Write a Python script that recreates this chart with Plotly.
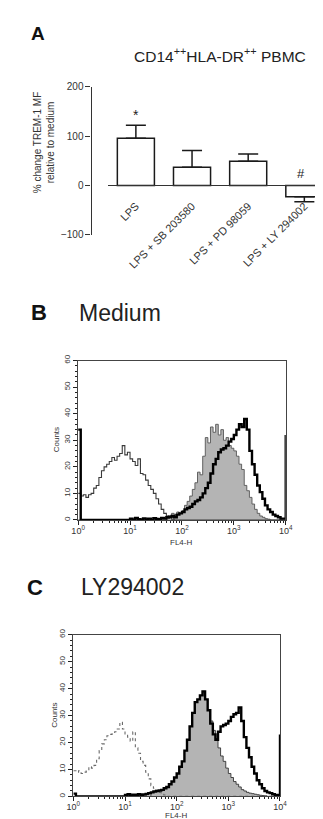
import plotly.graph_objects as go

W, H = 323, 819
FONT = "Liberation Sans, Arial, Helvetica, sans-serif"

# ---------------- Panel A data ----------------
CATEGORIES = ["LPS", "LPS + SB 203580", "LPS + PD 98059", "LPS + LY 294002"]
PCT_CHANGE = [96, 37, 49, -23]
ERR_UP = [26, 34, 15, 0]
ERR_DOWN = [0, 0, 0, 10]
Y_TICKS_A = [-100, 0, 100, 200]

# ---------------- Histogram data (log channel exponent 0..4, step 0.05) ----------------
CHANNEL_EXP = [i / 20 for i in range(81)]
X_TICKVALS = [1, 10, 100, 1000, 10000]
X_TICKTEXT = ["10<sup>0</sup>", "10<sup>1</sup>", "10<sup>2</sup>", "10<sup>3</sup>", "10<sup>4</sup>"]

B_CONTROL = [10, 9, 9.5, 8.5, 9.5, 10, 12, 13, 16, 18.5,
             20, 21, 22, 23.5, 22.5, 24, 25, 28, 24.5, 25.5,
             23, 22, 20.5, 23, 17.5, 17, 15, 13, 11.5, 10,
             8, 6, 4, 2.5, 1.5, 0.8, 0.3, 0, 0, 0,
             0, 0, 0, 0, 0, 0, 0, 0, 0, 0,
             0, 0, 0, 0, 0, 0, 0, 0, 0, 0,
             0, 0, 0, 0, 0, 0, 0, 0, 0, 0,
             0, 0, 0, 0, 0, 0, 0, 0, 0, 0,
             0]
B_FILLED = [0, 0, 0, 0, 0, 0, 0, 0, 0, 0,
            0, 0, 0, 0, 0, 0, 0, 0, 0, 0,
            0, 0, 0, 0, 0, 0, 0, 0, 0, 0,
            0, 0, 0, 0, 0.5, 1, 2.5, 2, 3, 2.5,
            3.5, 5.5, 7, 9, 11.5, 14, 18, 17, 24, 31,
            29, 35, 33, 36, 32, 34, 30, 31, 28, 27,
            26, 24, 21, 19, 13, 11, 8.5, 6, 4, 2.5,
            1.5, 1, 0.5, 0.3, 0, 0, 0, 0, 0, 0,
            0]
B_THICK = [34, 0, 0, 0, 0, 0, 0, 0, 0, 0,
           0, 0, 0, 0, 0, 0, 0, 0, 0, 0,
           0.5, 0, 0.8, 0.3, 0, 0.6, 0.2, 0.5, 0, 0.7,
           0.4, 0.3, 0.8, 0.5, 1, 1.2, 1.5, 1, 2, 2.5,
           3, 4, 4.5, 5, 6, 7, 7.5, 8.5, 10, 12,
           14, 17.5, 21, 23, 25.5, 26.5, 27, 28, 29.5, 30.5,
           32, 34, 36, 35, 38, 34, 26, 21, 17, 13,
           10.5, 8, 5.5, 4, 3, 2, 1.5, 1, 0.5, 0.5,
           32]

C_CONTROL = [9.5, 9, 9.5, 8.5, 9, 9.5, 11, 10.5, 11.5, 14,
             17, 19.5, 21, 22.5, 23, 23.5, 24, 25, 27.5, 25,
             23, 22, 20.5, 24, 18, 16, 13, 11.5, 9, 6.5,
             4, 3, 2, 1.5, 0.8, 0.5, 0, 0, 0, 0,
             0, 0, 0, 0, 0, 0, 0, 0, 0, 0,
             0, 0, 0, 0, 0, 0, 0, 0, 0, 0,
             0, 0, 0, 0, 0, 0, 0, 0, 0, 0,
             0, 0, 0, 0, 0, 0, 0, 0, 0, 0,
             0]
C_FILLED = [0, 0, 0, 0, 0, 0, 0, 0, 0, 0,
            0, 0, 0, 0, 0, 0, 0, 0, 0, 0,
            0, 0, 0, 0, 0, 0, 0, 0, 0, 0,
            1.5, 1.8, 2, 2.2, 2.4, 3, 3.5, 4.5, 5.5, 7,
            8.5, 11, 13, 17, 21, 26, 31, 35, 36, 37.5,
            39, 36, 32, 28, 24.5, 21.5, 18, 15, 13, 10.5,
            8.5, 7, 5.5, 4.5, 3.5, 2.5, 2, 1.5, 1.2, 1,
            0.8, 0.6, 0.4, 0.3, 0.2, 0, 0, 0, 0, 0,
            0]
C_THICK = [1, 0, 0, 0, 0, 0, 0, 0, 0, 0,
           0, 0, 0, 0, 0, 0, 0, 0, 0, 0,
           0.5, 0.8, 0.3, 0.6, 0.5, 0.8, 0.4, 0.7, 0.9, 1.2,
           1.5, 1.8, 2, 2.2, 2.4, 3, 3.5, 4.5, 5.5, 7,
           8.5, 11, 13, 17, 21, 26, 31, 35, 36, 37.5,
           39, 36, 32, 27, 23, 21, 24, 26, 26.5, 27,
           28, 29.5, 30.5, 31, 33, 28, 22, 18, 14.5, 11,
           8.5, 6, 4.5, 3, 2, 1.5, 1.2, 0.8, 0.5, 0.5,
           23]

Y_TICKS_HIST = [0, 10, 20, 30, 40, 50, 60]


def px_x(p):
    return p / W


def px_y(p):
    return 1 - p / H


fig = go.Figure()

# ---------------- Panel A: bars ----------------
fig.add_trace(go.Bar(
    x=CATEGORIES, y=PCT_CHANGE, xaxis="x", yaxis="y", width=0.66,
    marker=dict(color="white", line=dict(color="#1a1a1a", width=1.5)),
    error_y=dict(type="data", symmetric=False, array=ERR_UP, arrayminus=ERR_DOWN,
                 color="#1a1a1a", thickness=1.5, width=10),
    showlegend=False,
))

# ---------------- Histograms ----------------
xs = [10 ** e for e in CHANNEL_EXP]


def add_hist(xa, ya, filled, control, thick, control_dash, control_color, filled_line):
    fig.add_trace(go.Scatter(x=xs, y=filled, xaxis=xa, yaxis=ya, mode="lines",
                             line=dict(shape="hv", color=filled_line, width=0.9),
                             fill="tozeroy", fillcolor="#b4b4b4", showlegend=False))
    fig.add_trace(go.Scatter(x=xs, y=control, xaxis=xa, yaxis=ya, mode="lines",
                             line=dict(shape="hv", color=control_color, width=1.1, dash=control_dash),
                             showlegend=False))
    fig.add_trace(go.Scatter(x=xs, y=thick, xaxis=xa, yaxis=ya, mode="lines",
                             line=dict(shape="hv", color="#000000", width=2.4),
                             showlegend=False))


add_hist("x2", "y2", B_FILLED, B_CONTROL, B_THICK, "solid", "#3a3a3a", "#555555")
add_hist("x3", "y3", C_FILLED, C_CONTROL, C_THICK, "dot", "#6a6a6a", "#333333")

tickfont_small = dict(family=FONT, size=8, color="#333")
minor_x = [m * 10 ** d for d in range(4) for m in range(2, 10)]


def hist_axes(xdom, ydom):
    xa = dict(domain=xdom, type="log", range=[0, 4],
              showline=True, mirror=True, linecolor="#444", linewidth=1,
              ticks="outside", ticklen=4, tickcolor="#222", tickwidth=1,
              tickvals=X_TICKVALS, ticktext=X_TICKTEXT, ticklabelstandoff=-2,
              tickfont=dict(family=FONT, size=9, color="#333"),
              minor=dict(tickvals=minor_x, ticks="outside", ticklen=2, tickcolor="#222"),
              showgrid=False, zeroline=False, fixedrange=True)
    ya = dict(domain=ydom, range=[0, 60],
              showline=True, mirror=True, linecolor="#444", linewidth=1,
              ticks="outside", ticklen=4, tickcolor="#222", tickwidth=1,
              tickvals=Y_TICKS_HIST, tickangle=-90, tickfont=tickfont_small,
              minor=dict(dtick=2, ticks="outside", ticklen=2, tickcolor="#222"),
              showgrid=False, zeroline=False, fixedrange=True)
    return xa, ya


xa2, ya2 = hist_axes([px_x(66), px_x(283)], [px_y(513.5), px_y(351.7)])
xa3, ya3 = hist_axes([px_x(61), px_x(277)], [px_y(794), px_y(630)])
xa2["anchor"], ya2["anchor"] = "y2", "x2"
xa3["anchor"], ya3["anchor"] = "y3", "x3"

fig.update_layout(
    width=W, height=H,
    margin=dict(l=0, r=0, t=0, b=0),
    paper_bgcolor="white", plot_bgcolor="white",
    font=dict(family=FONT, color="#222"),
    xaxis=dict(domain=[px_x(97), 1], range=[-0.5, 3.35], anchor="free", position=px_y(174),
               showline=True, linecolor="#333", linewidth=1.2, ticks="",
               tickangle=-45, tickfont=dict(family=FONT, size=11, color="#333"),
               ticklabelstandoff=9,
               showgrid=False, zeroline=False, fixedrange=True),
    yaxis=dict(domain=[px_y(224), px_y(74)], range=[-100, 200], anchor="free", position=px_x(79),
               showline=True, linecolor="#333", linewidth=1.2,
               ticks="outside", ticklen=5, tickcolor="#333",
               tickvals=Y_TICKS_A, tickfont=dict(family=FONT, size=10, color="#333"),
               showgrid=False, zeroline=False, fixedrange=True),
    xaxis2=xa2, yaxis2=ya2, xaxis3=xa3, yaxis3=ya3,
)

ann = []


def paper_ann(text, x, y, size, xanchor="center", yanchor="middle", angle=0, color="#222"):
    ann.append(dict(text=text, x=px_x(x), y=px_y(y), xref="paper", yref="paper",
                    xanchor=xanchor, yanchor=yanchor, textangle=angle, showarrow=False,
                    font=dict(family=FONT, size=size, color=color)))


paper_ann("<b>A</b>", 24, 20, 19, color="#111")
paper_ann("CD14<sup>++</sup>HLA-DR<sup>++</sup> PBMC", 214.5, 42, 15.5)
paper_ann("% change TREM-1 MF<br>relative to medium", 30.5, 130, 10, angle=-90, color="#333")
paper_ann("<b>B</b>", 25, 303, 22, color="#111")
paper_ann("Medium", 65, 303, 23, xanchor="left")
paper_ann("<b>C</b>", 21, 582, 22, color="#111")
paper_ann("LY294002", 67, 582, 23, xanchor="left")
paper_ann("Counts", 43.5, 432, 8, angle=-90, color="#333")
paper_ann("FL4-H", 173, 536, 8, color="#333")
paper_ann("Counts", 41, 712, 8, angle=-90, color="#333")
paper_ann("FL4-H", 168, 813, 8, color="#333")

# significance marks on the bars
ann.append(dict(text="*", x=CATEGORIES[0], y=142, xref="x", yref="y", showarrow=False,
                font=dict(family=FONT, size=14, color="#222")))
ann.append(dict(text="#", x=CATEGORIES[3], y=24, xref="x", yref="y", showarrow=False, xshift=-3,
                font=dict(family=FONT, size=13, color="#222")))

fig.update_layout(annotations=ann)
fig.write_html("out.html")
